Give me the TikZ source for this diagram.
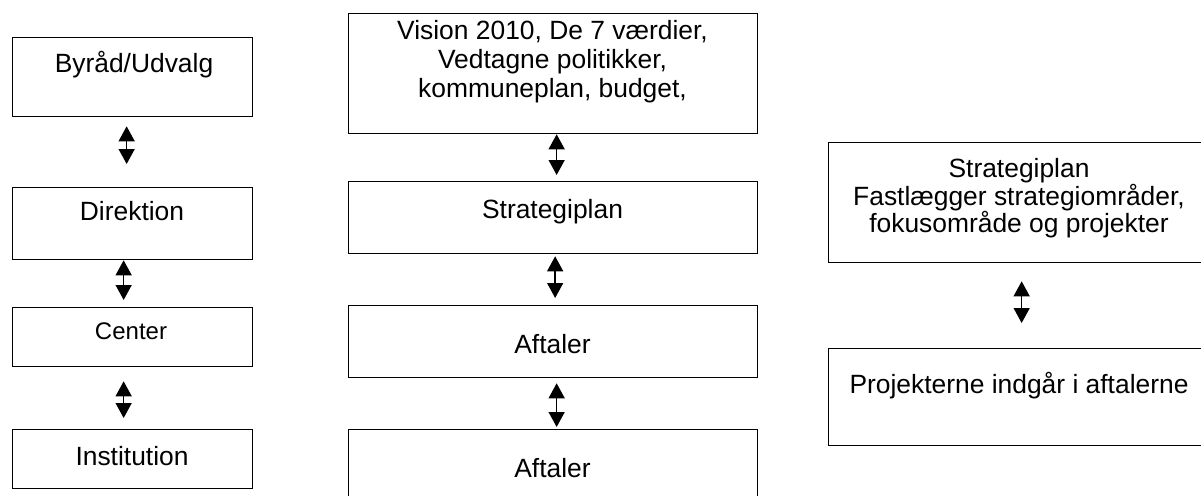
\documentclass[tikz,border=0pt]{standalone}
\usepackage{fontspec}
\setmainfont{Liberation Sans}
\usetikzlibrary{arrows.meta,calc}
\begin{document}
\begin{tikzpicture}[x=1pt,y=-1pt,
  box/.style={draw=black, line width=1.3pt, inner sep=0pt, anchor=north west},
  txt/.style={inner sep=0pt, anchor=base, align=center, font=\fontsize{26.4}{28.3}\selectfont},
  small/.style={font=\fontsize{24}{26}\selectfont},
  dbl/.style={line width=1.4pt, {Triangle[width=16pt,length=15pt]}-{Triangle[width=16pt,length=15pt]}}]
\path[use as bounding box] (0,0) rectangle (1201,495);
\clip (0,0) rectangle (1201,495);
% left column
\node[box, minimum width=240pt, minimum height=79pt] (byrad) at (12,37) {};
\node[box, minimum width=240pt, minimum height=72pt] (direk) at (12,187) {};
\node[box, minimum width=240pt, minimum height=59pt] (center) at (12,307) {};
\node[box, minimum width=240pt, minimum height=59pt] (inst) at (12,429) {};
\node[txt] (tbyrad) at (134,73) {Byråd/Udvalg};
\node[txt] (tdirek) at (132,220.5) {Direktion};
\node[txt, small] (tcenter) at (131,339.5) {Center};
\node[txt] (tinst) at (132,465) {Institution};
% middle column
\node[box, minimum width=409pt, minimum height=120pt] (vision) at (348,13) {};
\node[box, minimum width=409pt, minimum height=72pt] (strat) at (348,181) {};
\node[box, minimum width=409pt, minimum height=72pt] (aft1) at (348,305) {};
\node[box, minimum width=409pt, minimum height=90pt] (aft2) at (348,429) {};
\node[txt] (tv1) at (552.5,40) {Vision 2010, De 7 værdier,};
\node[txt] (tv2) at (552.5,68.5) {Vedtagne politikker,};
\node[txt] (tv3) at (552.5,97) {kommuneplan, budget,};
\node[txt] (tstrat) at (552.5,218) {Strategiplan};
\node[txt] (taft1) at (552.5,353) {Aftaler};
\node[txt] (taft2) at (552.5,477) {Aftaler};
% right column
\node[box, minimum width=382pt, minimum height=120pt] (rstrat) at (828,142) {};
\node[box, minimum width=382pt, minimum height=97pt] (rproj) at (828,348) {};
\node[txt] (tr1) at (1019,177) {Strategiplan};
\node[txt] (tr2) at (1019,205) {Fastlægger strategiområder,};
\node[txt] (tr3) at (1019,232) {fokusområde og projekter};
\node[txt] (tproj) at (1019,393) {Projekterne indgår i aftalerne};
% arrows
\draw[dbl] ($(byrad.south)+(-6,9)$) -- ($(direk.north)+(-6,-23)$);
\draw[dbl] ($(direk.south)+(-9,0)$) -- ($(center.north)+(-9,-7)$);
\draw[dbl] ($(center.south)+(-9,14)$) -- ($(inst.north)+(-9,-11)$);
\draw[dbl] ($(vision.south)+(3.5,0)$) -- ($(strat.north)+(3.5,-6)$);
\draw[dbl] ($(strat.south)+(2,2)$) -- ($(aft1.north)+(2,-7)$);
\draw[dbl] ($(aft1.south)+(3.5,5)$) -- ($(aft2.north)+(3.5,-2)$);
\draw[dbl] ($(rstrat.south)+(2,18)$) -- ($(rproj.north)+(2,-25)$);
\end{tikzpicture}
\end{document}
